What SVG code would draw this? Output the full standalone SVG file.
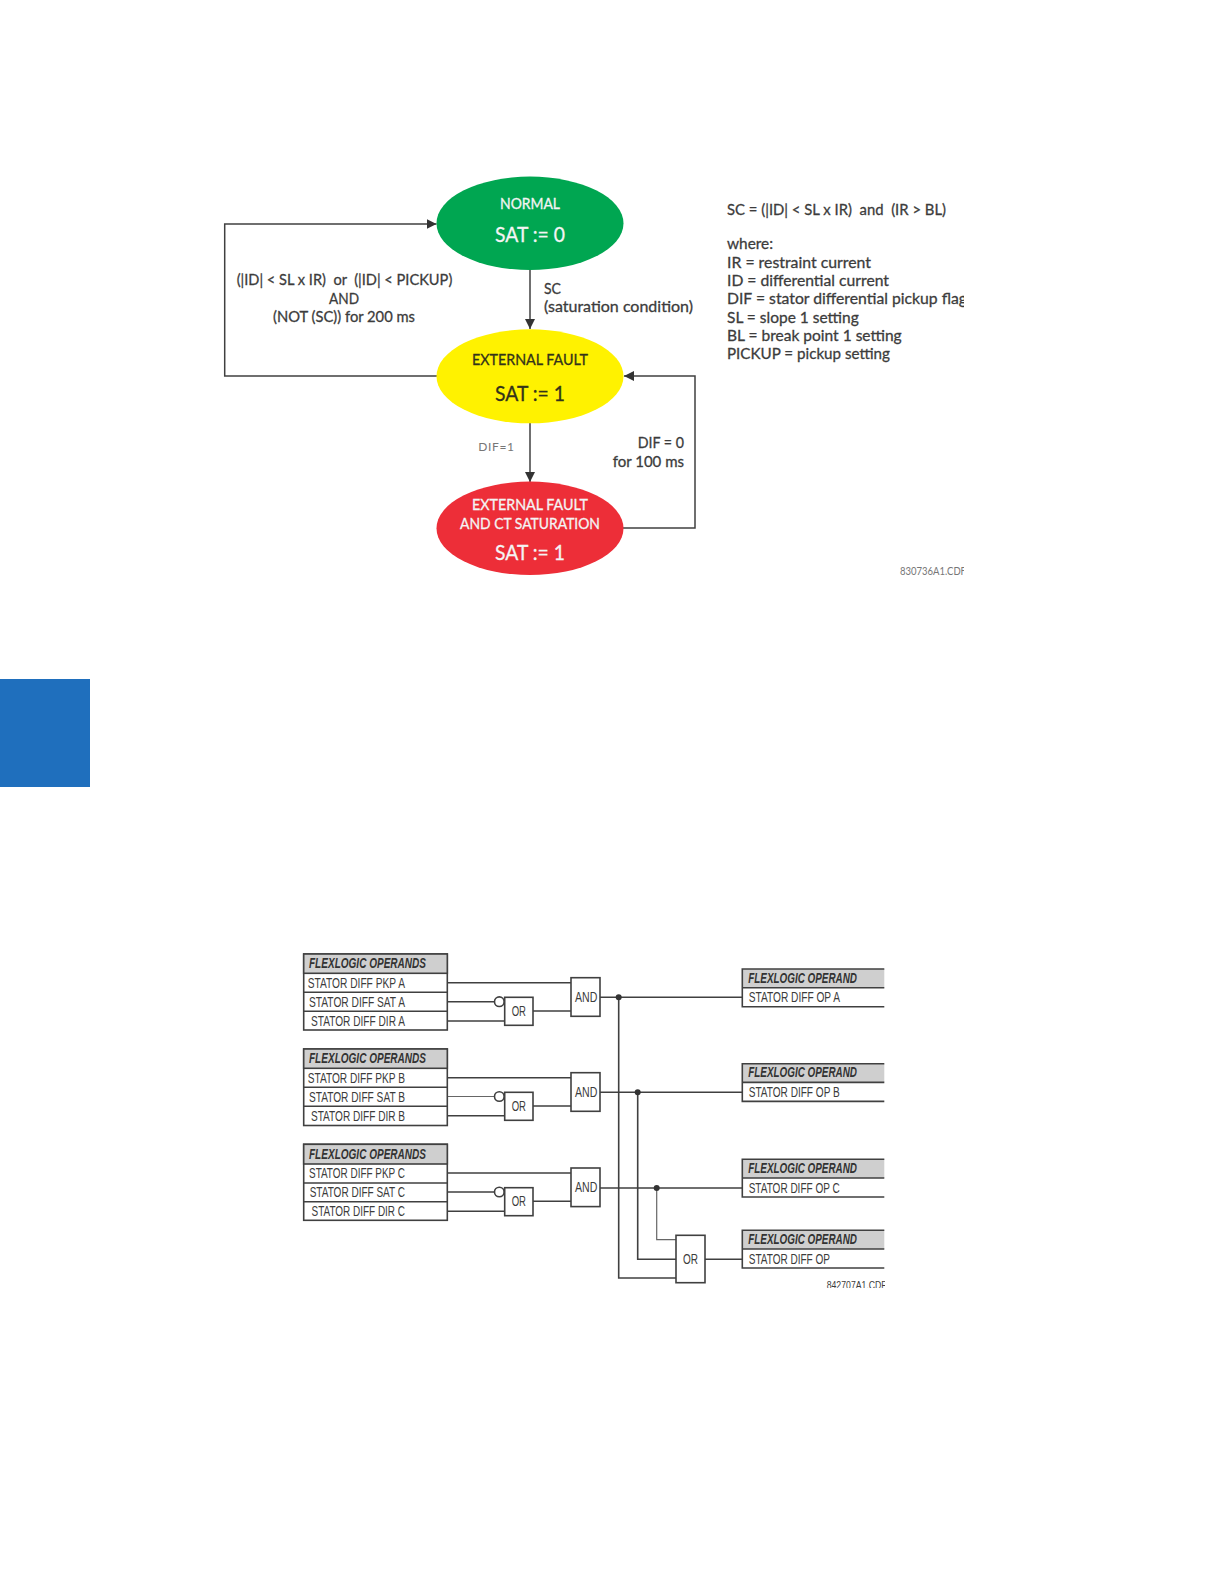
<svg xmlns="http://www.w3.org/2000/svg" width="1224" height="1584" viewBox="0 0 1224 1584">
<style>
text{white-space:pre;fill:#3c3c3c}
.g{font-family:Lato,"Open Sans",sans-serif;font-size:16px;stroke:#3c3c3c;stroke-width:.3}
.w{fill:#f4f4f4;stroke:#f4f4f4}
.k{fill:#33331a;stroke:#33331a}
.t{font-size:15px}
.b{font-size:22px}
.c{text-anchor:middle}
.n{font-family:"Liberation Sans",Arial,sans-serif;font-size:14.500px}
.h{font-family:"Liberation Sans",Arial,sans-serif;font-size:14px;font-weight:bold;font-style:italic;fill:#333}
.ln{fill:none;stroke:#404040;stroke-width:1.600}
.thin{fill:none;stroke:#666;stroke-width:1.200}
.bx{fill:#fff;stroke:#404040;stroke-width:1.600}
.hd{fill:#cfcfcf;stroke:#404040;stroke-width:1.600}
.fl{fill:none;stroke:#404040;stroke-width:1.600}
.arr{fill:none;stroke:#404040;stroke-width:1.500}
</style>
<defs>
<marker id="a" markerUnits="userSpaceOnUse" markerWidth="11" markerHeight="11" refX="10" refY="5" orient="auto"><path d="M0 0L10 5L0 10Z" fill="#333"/></marker>
<clipPath id="c1"><rect x="700" y="190" width="264" height="400"/></clipPath>
<clipPath id="c2"><rect x="800" y="1200" width="85" height="88"/></clipPath>
</defs>

<rect id="tab" x="0" y="679" width="90" height="108" fill="#1f6fbd"/>

<g id="connectors-top">
<path class="arr" marker-end="url(#a)" d="M530 270V329"/>
<path class="arr" marker-end="url(#a)" d="M530 423V482"/>
<path class="arr" marker-end="url(#a)" d="M437 376H224.700V224H436.500"/>
<path class="arr" marker-end="url(#a)" d="M623 528H695V376H624"/>
</g>

<g id="normal">
<ellipse cx="530" cy="223.300" rx="93.500" ry="46.700" fill="#00a651"/>
<text class="g t w c" x="530" y="209.300" textLength="60" lengthAdjust="spacingAndGlyphs">NORMAL</text>
<text class="g b w c" x="530" y="242" textLength="70" lengthAdjust="spacingAndGlyphs">SAT := 0</text>
</g>
<g id="external-fault">
<ellipse cx="530" cy="376.300" rx="93.500" ry="47" fill="#fff200"/>
<text class="g t k c" x="530" y="364.500" textLength="116" lengthAdjust="spacingAndGlyphs">EXTERNAL FAULT</text>
<text class="g b k c" x="530" y="401" textLength="70" lengthAdjust="spacingAndGlyphs">SAT := 1</text>
</g>
<g id="external-fault-ct">
<ellipse cx="530" cy="528.300" rx="93.500" ry="46.700" fill="#ed2e38"/>
<text class="g t w c" x="530" y="510" textLength="116" lengthAdjust="spacingAndGlyphs">EXTERNAL FAULT</text>
<text class="g t w c" x="530" y="529" textLength="140" lengthAdjust="spacingAndGlyphs">AND CT SATURATION</text>
<text class="g b w c" x="530" y="560" textLength="70" lengthAdjust="spacingAndGlyphs">SAT := 1</text>
</g>

<g id="labels-top">
<text class="g" x="236.700" y="285" textLength="215.600" lengthAdjust="spacingAndGlyphs">(|ID| &lt; SL x IR)  or  (|ID| &lt; PICKUP)</text>
<text class="g c" x="344" y="303.500" textLength="30" lengthAdjust="spacingAndGlyphs">AND</text>
<text class="g" x="273" y="322.300" textLength="142" lengthAdjust="spacingAndGlyphs">(NOT (SC)) for 200 ms</text>
<text class="g" x="544" y="294.300" textLength="17" lengthAdjust="spacingAndGlyphs">SC</text>
<text class="g" x="544" y="312" textLength="149" lengthAdjust="spacingAndGlyphs">(saturation condition)</text>
<text x="478.300" y="451" textLength="35.700" style="font-family:Lato,sans-serif;font-size:12px;fill:#777">DIF=1</text>
<text class="g" x="637.700" y="448" textLength="46.300" lengthAdjust="spacingAndGlyphs">DIF = 0</text>
<text class="g" x="612.700" y="466.700" textLength="71.300" lengthAdjust="spacingAndGlyphs">for 100 ms</text>
</g>

<g id="legend" clip-path="url(#c1)">
<text class="g" x="727" y="215" textLength="219" lengthAdjust="spacingAndGlyphs">SC = (|ID| &lt; SL x IR)  and  (IR &gt; BL)</text>
<text class="g" x="727" y="249.300" textLength="46" lengthAdjust="spacingAndGlyphs">where:</text>
<text class="g" x="727" y="268" textLength="144" lengthAdjust="spacingAndGlyphs">IR = restraint current</text>
<text class="g" x="727" y="286" textLength="162" lengthAdjust="spacingAndGlyphs">ID = differential current</text>
<text class="g" x="727" y="304.300" textLength="240" lengthAdjust="spacingAndGlyphs">DIF = stator differential pickup flag</text>
<text class="g" x="727" y="323.300" textLength="131.700" lengthAdjust="spacingAndGlyphs">SL = slope 1 setting</text>
<text class="g" x="727" y="341.300" textLength="174.700" lengthAdjust="spacingAndGlyphs">BL = break point 1 setting</text>
<text class="g" x="727" y="359.300" textLength="163" lengthAdjust="spacingAndGlyphs">PICKUP = pickup setting</text>
<text x="900" y="575" textLength="66" lengthAdjust="spacingAndGlyphs" style="font-family:Lato,sans-serif;font-size:11px;fill:#777">830736A1.CDF</text>
</g>

<g id="connectors-logic">
<path class="ln" d="M447 982.700H571M447 1001.700H494.300M447 1021H505M533 1011H571M600 997.300H742"/>
<path class="ln" d="M447 1077.700H571M447 1115.800H505M533 1106H571M600 1092.300H742"/>
<path class="thin" d="M447 1096.500H494.300"/>
<path class="ln" d="M447 1173H571M447 1192H494.300M447 1211.300H505M533 1201.300H571M600 1188H742"/>
<path class="ln" d="M618.700 997.300V1278H676M637.700 1092.300V1259.300H676M705 1259.300H742"/>
<path class="thin" d="M656.700 1188V1239.700H676"/>
<circle cx="618.700" cy="997.300" r="3" fill="#333"/>
<circle cx="637.700" cy="1092.300" r="3" fill="#333"/>
<circle cx="656.700" cy="1188" r="3" fill="#333"/>
</g>

<g id="operands-a">
<rect class="bx" x="303.700" y="954" width="143.600" height="76"/>
<rect class="hd" x="303.700" y="954" width="143.600" height="19.300"/>
<path class="ln" d="M303.700 992.300H447.300M303.700 1011.300H447.300"/>
<text class="h" x="309" y="968.300" textLength="117" lengthAdjust="spacingAndGlyphs">FLEXLOGIC OPERANDS</text>
<text class="n" x="307.700" y="988" textLength="97.300" lengthAdjust="spacingAndGlyphs">STATOR DIFF PKP A</text>
<text class="n" x="309" y="1007" textLength="96" lengthAdjust="spacingAndGlyphs">STATOR DIFF SAT A</text>
<text class="n" x="311" y="1025.700" textLength="94" lengthAdjust="spacingAndGlyphs">STATOR DIFF DIR A</text>
</g>
<g id="operands-b">
<rect class="bx" x="303.700" y="1049" width="143.600" height="76.500"/>
<rect class="hd" x="303.700" y="1049" width="143.600" height="19.300"/>
<path class="ln" d="M303.700 1087.300H447.300M303.700 1106.300H447.300"/>
<text class="h" x="309" y="1063.300" textLength="117" lengthAdjust="spacingAndGlyphs">FLEXLOGIC OPERANDS</text>
<text class="n" x="307.700" y="1083" textLength="97.300" lengthAdjust="spacingAndGlyphs">STATOR DIFF PKP B</text>
<text class="n" x="309" y="1102" textLength="96" lengthAdjust="spacingAndGlyphs">STATOR DIFF SAT B</text>
<text class="n" x="311" y="1120.700" textLength="94" lengthAdjust="spacingAndGlyphs">STATOR DIFF DIR B</text>
</g>
<g id="operands-c">
<rect class="bx" x="303.700" y="1144.300" width="143.600" height="76"/>
<rect class="hd" x="303.700" y="1144.300" width="143.600" height="19.700"/>
<path class="ln" d="M303.700 1183H447.300M303.700 1201.700H447.300"/>
<text class="h" x="309" y="1158.700" textLength="117" lengthAdjust="spacingAndGlyphs">FLEXLOGIC OPERANDS</text>
<text class="n" x="309" y="1178.300" textLength="96" lengthAdjust="spacingAndGlyphs">STATOR DIFF PKP C</text>
<text class="n" x="309.700" y="1197.300" textLength="95.300" lengthAdjust="spacingAndGlyphs">STATOR DIFF SAT C</text>
<text class="n" x="311.500" y="1216" textLength="93.500" lengthAdjust="spacingAndGlyphs">STATOR DIFF DIR C</text>
</g>

<g id="or-a">
<rect class="bx" x="504.700" y="997.300" width="28.300" height="28"/>
<circle class="bx" cx="499.300" cy="1001.700" r="4.800"/>
<text class="n" x="511.700" y="1016" textLength="14.300" lengthAdjust="spacingAndGlyphs">OR</text>
</g>
<g id="and-a">
<rect class="bx" x="571" y="977.700" width="29" height="38.600"/>
<text class="n" x="575" y="1001.700" textLength="22.300" lengthAdjust="spacingAndGlyphs">AND</text>
</g>
<g id="or-b">
<rect class="bx" x="504.700" y="1092.300" width="28.300" height="28"/>
<circle class="bx" cx="499.300" cy="1096.500" r="4.800"/>
<text class="n" x="511.700" y="1111" textLength="14.300" lengthAdjust="spacingAndGlyphs">OR</text>
</g>
<g id="and-b">
<rect class="bx" x="571" y="1072.700" width="29" height="38.600"/>
<text class="n" x="575" y="1096.700" textLength="22.300" lengthAdjust="spacingAndGlyphs">AND</text>
</g>
<g id="or-c">
<rect class="bx" x="504.700" y="1187.700" width="28.300" height="28"/>
<circle class="bx" cx="499.300" cy="1192" r="4.800"/>
<text class="n" x="511.700" y="1206.300" textLength="14.300" lengthAdjust="spacingAndGlyphs">OR</text>
</g>
<g id="and-c">
<rect class="bx" x="571" y="1168" width="29" height="38.600"/>
<text class="n" x="575" y="1192" textLength="22.300" lengthAdjust="spacingAndGlyphs">AND</text>
</g>
<g id="or-out">
<rect class="bx" x="676" y="1235.300" width="29" height="47.400"/>
<text class="n" x="683" y="1264" textLength="15" lengthAdjust="spacingAndGlyphs">OR</text>
</g>

<g id="out-a">
<path class="hd" d="M742.300 969H884.300V987.700H742.300Z" style="stroke:none"/>
<path class="fl" d="M884.300 969H742.300V1006.700H884.300M742.300 987.700H884.300"/>
<text class="h" x="748.300" y="982.700" textLength="108.700" lengthAdjust="spacingAndGlyphs">FLEXLOGIC OPERAND</text>
<text class="n" x="748.700" y="1002.300" textLength="91.300" lengthAdjust="spacingAndGlyphs">STATOR DIFF OP A</text>
</g>
<g id="out-b">
<path class="hd" d="M742.300 1063.700H884.300V1082.400H742.300Z" style="stroke:none"/>
<path class="fl" d="M884.300 1063.700H742.300V1101.400H884.300M742.300 1082.400H884.300"/>
<text class="h" x="748.300" y="1077.400" textLength="108.700" lengthAdjust="spacingAndGlyphs">FLEXLOGIC OPERAND</text>
<text class="n" x="748.700" y="1097" textLength="91" lengthAdjust="spacingAndGlyphs">STATOR DIFF OP B</text>
</g>
<g id="out-c">
<path class="hd" d="M742.300 1159.300H884.300V1178H742.300Z" style="stroke:none"/>
<path class="fl" d="M884.300 1159.300H742.300V1197H884.300M742.300 1178H884.300"/>
<text class="h" x="748.300" y="1173" textLength="108.700" lengthAdjust="spacingAndGlyphs">FLEXLOGIC OPERAND</text>
<text class="n" x="748.700" y="1193" textLength="91" lengthAdjust="spacingAndGlyphs">STATOR DIFF OP C</text>
</g>
<g id="out-all">
<path class="hd" d="M742.300 1230.300H884.300V1249H742.300Z" style="stroke:none"/>
<path class="fl" d="M884.300 1230.300H742.300V1268H884.300M742.300 1249H884.300"/>
<text class="h" x="748.300" y="1244" textLength="108.700" lengthAdjust="spacingAndGlyphs">FLEXLOGIC OPERAND</text>
<text class="n" x="748.700" y="1264" textLength="81.300" lengthAdjust="spacingAndGlyphs">STATOR DIFF OP</text>
</g>
<g id="drawing-ref" clip-path="url(#c2)">
<text class="n" x="826.700" y="1288.500" textLength="60" lengthAdjust="spacingAndGlyphs" style="font-size:11px">842707A1.CDF</text>
</g>
</svg>
